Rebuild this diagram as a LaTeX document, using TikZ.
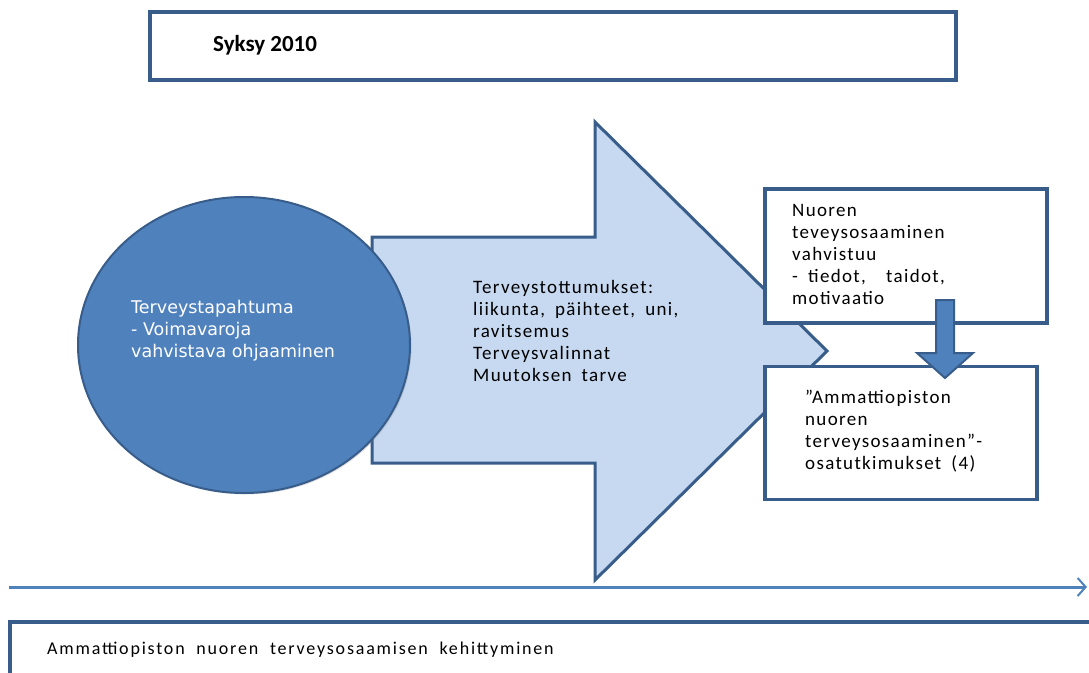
\documentclass[tikz,border=0pt]{standalone}
\usepackage{fontspec}
\setmainfont{Carlito}
\newfontfamily\circfont{DejaVu Sans}
\newfontfamily\spacedfont{Carlito}[LetterSpace=7,WordSpace=1.8]
\newfontfamily\widefont{Carlito}[LetterSpace=10,WordSpace=2]
\usepackage{tikz}
\usetikzlibrary{shapes.geometric,arrows.meta,positioning,shadows,calc}

\definecolor{edgeblue}{HTML}{385D8A}
\definecolor{midblue}{HTML}{4F81BD}
\definecolor{paleblue}{HTML}{C6D9F1}

\tikzset{
    box/.style={draw=edgeblue,line width=3.5pt,fill=white,inner sep=0pt,
        drop shadow={shadow xshift=1.5pt,shadow yshift=-1.5pt,opacity=0.25}},
    boxtext/.style={anchor=west,align=left,inner sep=0pt,font=\spacedfont\fontsize{19}{22}\selectfont},
    timeline/.style={draw=midblue,line width=3pt,-{Straight Barb[length=8pt,width=18pt,line width=2pt]}}
}

\begin{document}
\begin{tikzpicture}[x=1pt,y=-1pt]
    \useasboundingbox (0,0) rectangle (1089,672);
    % otsikko
    \node[box,minimum width=806pt,minimum height=68pt] (syksy) at (553,46) {};
    \node[boxtext,font=\fontsize{23}{26}\selectfont\bfseries] (syksy-txt) at (213,45) {Syksy 2010};
    % iso nuoli
    \draw[edgeblue,line width=3pt,fill=paleblue,line join=miter]
        (372,237) -- (595,237) -- (595,122) -- (827,351) -- (595,580) -- (595,463) -- (372,463) -- cycle;
    \node[boxtext] (tottumukset) at (473,331)
        {Terveystottumukset:\\liikunta, päihteet, uni,\\ravitsemus\\Terveysvalinnat\\Muutoksen tarve};
    % ympyra
    \node[ellipse,draw=edgeblue,line width=2pt,fill=midblue,minimum width=332pt,minimum height=296pt,
        drop shadow={shadow xshift=1.5pt,shadow yshift=-1.5pt,opacity=0.25}] (tapahtuma) at (244,345) {};
    \node[boxtext,text=white,font=\circfont\fontsize{17.5}{22}\selectfont] (tapahtuma-txt) at (131,331)
        {Terveystapahtuma\\- Voimavaroja\\vahvistava ohjaaminen};
    % oikeat laatikot
    \node[box,minimum width=282pt,minimum height=134pt] (nuoren) at (906,256) {};
    \node[boxtext] (nuoren-txt) at (792,254)
        {Nuoren\\teveysosaaminen\\vahvistuu\\- tiedot, \ taidot,\\motivaatio};
    \node[box,minimum width=272pt,minimum height=133pt] (osatut) at (901,433) {};
    \node[boxtext] (osatut-txt) at (805,431)
        {”Ammattiopiston\\nuoren\\terveysosaaminen”-\\osatutkimukset (4)};
    % nuoli laatikoiden valilla
    \coordinate (alas-top) at (945,300);
    \coordinate (alas-tip) at (945,378);
    \draw[edgeblue,line width=2pt,fill=midblue]
        ($(alas-top)+(-9,0)$) -- ($(alas-top)+(9,0)$) -- ($(alas-tip)+(9,-25)$) -- ($(alas-tip)+(28,-25)$)
        -- (alas-tip) -- ($(alas-tip)+(-28,-25)$) -- ($(alas-tip)+(-9,-25)$) -- cycle;
    % aikajana
    \coordinate (aika-a) at (9,587);
    \coordinate (aika-b) at (1087,587);
    \draw[timeline] (aika-a) -- (aika-b);
    % alalaatikko
    \node[box,anchor=north west,minimum width=1100pt,minimum height=80pt] (kehitys) at (8,620) {};
    \node[boxtext,font=\widefont\fontsize{18}{20}\selectfont] (kehitys-txt) at (47,650)
        {Ammattiopiston nuoren terveysosaamisen kehittyminen};
\end{tikzpicture}
\end{document}
